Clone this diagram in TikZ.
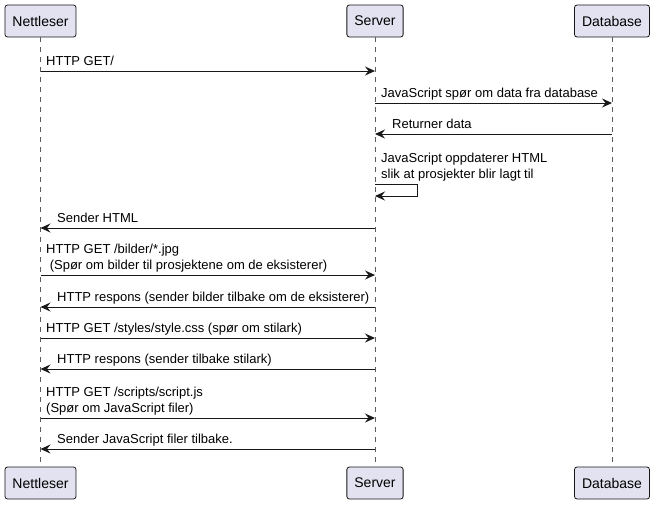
\documentclass[tikz,border=0pt]{standalone}
\usepackage{fontspec}
\setmainfont{Liberation Sans}
\usetikzlibrary{arrows.meta,positioning}
\definecolor{partfill}{HTML}{E2E2F0}
\definecolor{ink}{HTML}{181818}
\tikzset{
  part/.style={draw=ink, fill=partfill, rounded corners=2.5pt, line width=0.8pt,
    minimum height=32pt, inner xsep=7.5pt, font=\fontsize{14}{16}\selectfont},
  life/.style={draw=ink!70, dash pattern=on 5pt off 5pt, line width=0.6pt},
  msg/.style={draw=ink, line width=0.9pt, -{Stealth[length=10pt,width=9pt,inset=3.5pt]}},
  lbl/.style={anchor=south west, inner sep=0pt, align=left, text depth=3pt,
    font=\fontsize{13}{16.5}\selectfont}
}
\begin{document}
\begin{tikzpicture}[x=1pt,y=-1pt]
  \useasboundingbox (0,0) rectangle (655,504);

  % Participants, top and bottom
  \node[part] (nett) at (40.5,21) {Nettleser};
  \node[part] (srv) at (375,21) {Server};
  \node[part] (db) at (612,21) {Database};
  \node[part] (nettB) at (40.5,483) {Nettleser};
  \node[part] (srvB) at (375,483) {Server};
  \node[part] (dbB) at (612,483) {Database};

  % Lifelines
  \draw[life] (nett) -- (nettB);
  \draw[life] (srv) -- (srvB);
  \draw[life] (db) -- (dbB);

  % Request for the page
  \draw[msg] (nett |- 0,71) -- (srv |- 0,71);
  \node[lbl] (m1) at (46,69) {HTTP GET/};

  % Server asks the database
  \draw[msg] (srv |- 0,103) -- (db |- 0,103);
  \node[lbl] (m2) at (381,101) {JavaScript spør om data fra database};
  \draw[msg] (db |- 0,134) -- (srv |- 0,134);
  \node[lbl] (m3) at (392,132) {Returner data};

  % Self call on the server
  \node[lbl] (m4) at (381,182) {JavaScript oppdaterer HTML\\slik at prosjekter blir lagt til};
  \draw[msg] (srv |- 0,184) -- (417,184) -- (417,196) -- (srv |- 0,196);

  % Back to the browser
  \draw[msg] (srv |- 0,228) -- (nett |- 0,228);
  \node[lbl] (m5) at (57,226) {Sender HTML};

  % Images
  \draw[msg] (nett |- 0,275) -- (srv |- 0,275);
  \node[lbl] (m6) at (46,273) {HTTP GET /bilder/*.jpg\\\hspace*{3.6pt}(Spør om bilder til prosjektene om de eksisterer)};
  \draw[msg] (srv |- 0,307) -- (nett |- 0,307);
  \node[lbl] (m7) at (57,305) {HTTP respons (sender bilder tilbake om de eksisterer)};

  % Stylesheet
  \draw[msg] (nett |- 0,338) -- (srv |- 0,338);
  \node[lbl] (m8) at (46,336) {HTTP GET /styles/style.css (spør om stilark)};
  \draw[msg] (srv |- 0,369) -- (nett |- 0,369);
  \node[lbl] (m9) at (57,367) {HTTP respons (sender tilbake stilark)};

  % Scripts
  \draw[msg] (nett |- 0,418) -- (srv |- 0,418);
  \node[lbl] (m10) at (46,416) {HTTP GET /scripts/script.js\\(Spør om JavaScript filer)};
  \draw[msg] (srv |- 0,449) -- (nett |- 0,449);
  \node[lbl] (m11) at (57,447) {Sender JavaScript filer tilbake.};
\end{tikzpicture}
\end{document}
